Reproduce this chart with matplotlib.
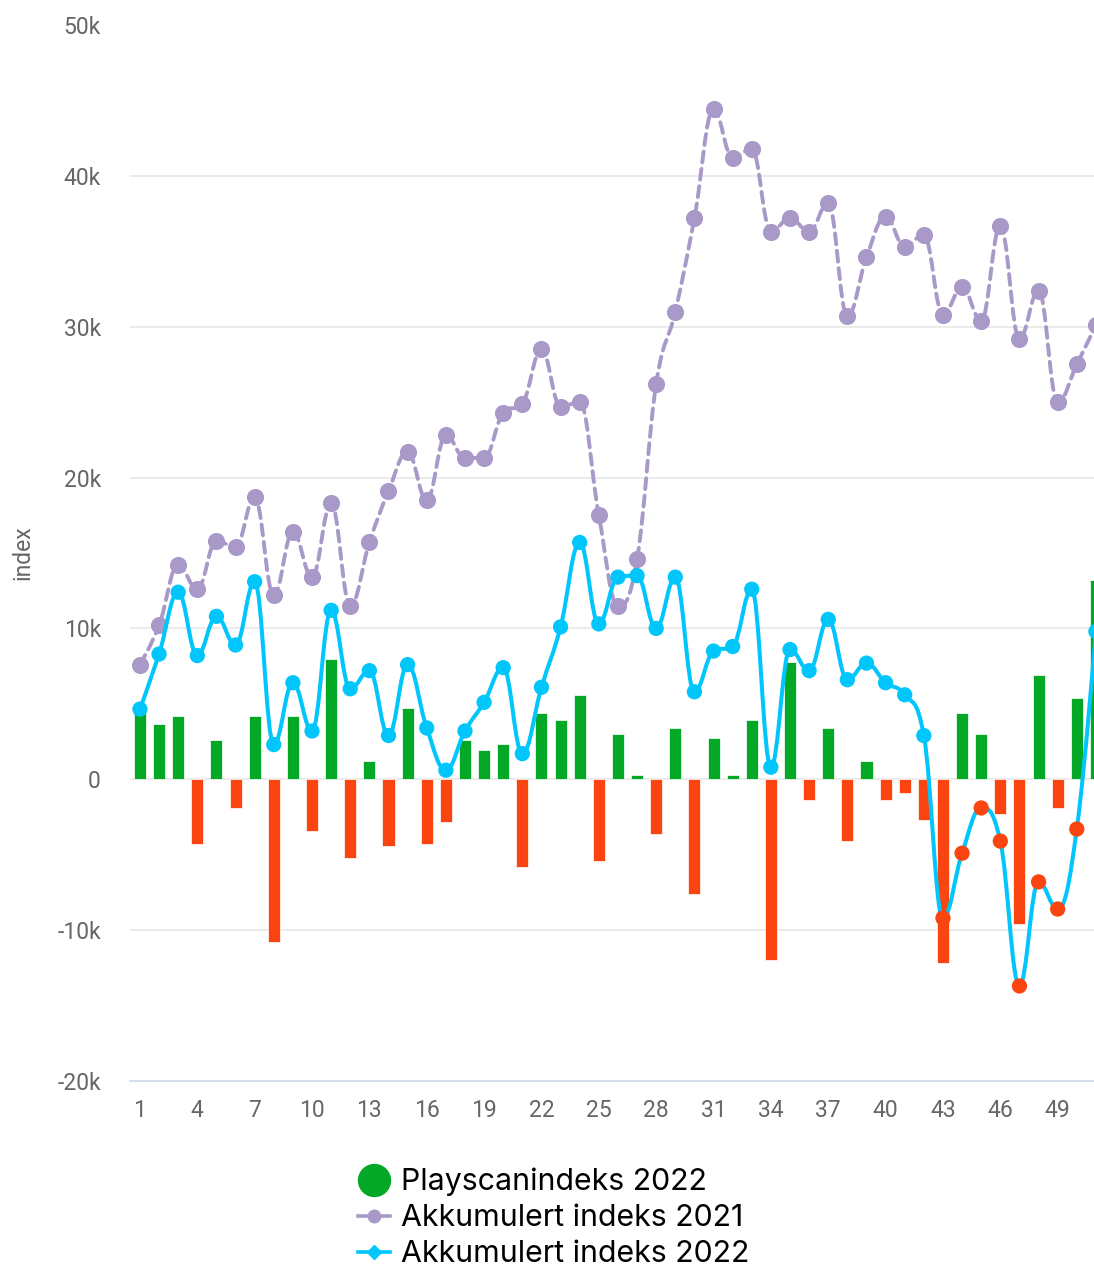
"""
Playscan index 2022 vs accumulated index 2021/2022 per week.
"""

import matplotlib
matplotlib.use("Agg")
import matplotlib.pyplot as plt
from matplotlib.path import Path
from matplotlib.patches import PathPatch
from matplotlib.lines import Line2D
from matplotlib.ticker import FuncFormatter

weeks = list(range(1, 52))

index_2022 = [4600, 3650, 4200, -4300, 2600, -1900, 4200, -10800, 4200, -3400,
              8000, -5200, 1200, -4400, 4700, -4300, -2800, 2600, 1950, 2350,
              -5800, 4400, 3900, 5600, -5400, 3000, 270, -3600, 3400, -7600,
              2750, 270, 3900, -12000, 7800, -1400, 3400, -4100, 1200, -1400,
              -900, -2700, -12200, 4400, 3000, -2300, -9600, 6900, -1900, 5400,
              13200]

acc_2021 = [7600, 10200, 14200, 12600, 15800, 15400, 18700, 12200, 16400, 13400,
            18300, 11500, 15700, 19100, 21700, 18500, 22800, 21300, 21300, 24300,
            24900, 28500, 24700, 25000, 17500, 11500, 14600, 26200, 31000, 37200,
            44400, 41200, 41800, 36300, 37200, 36300, 38200, 30700, 34600, 37300,
            35300, 36100, 30800, 32600, 30400, 36700, 29200, 32400, 25000, 27500,
            30100]

acc_2022 = [4650, 8300, 12400, 8200, 10800, 8900, 13100, 2300, 6400, 3200,
            11200, 6000, 7200, 2900, 7600, 3400, 600, 3200, 5100, 7400,
            1700, 6100, 10100, 15700, 10300, 13400, 13500, 10000, 13400, 5800,
            8500, 8800, 12600, 800, 8600, 7200, 10600, 6600, 7700, 6400,
            5600, 2900, -9200, -4900, -1900, -4100, -13700, -6800, -8600, -3300,
            9800]

x_ticks = list(range(1, 52, 3))
y_ticks = [-20000, -10000, 0, 10000, 20000, 30000, 40000, 50000]

GREEN = "#03a826"
RED = "#fb4510"
CYAN = "#00c6fc"
PURPLE = "#a899c8"
LABEL = "#666666"


def spline_path(xs, ys):
    # Highcharts-style spline: bezier controls, no false extremes
    n = len(xs)
    ctrl = []
    for i in range(n):
        x, y = xs[i], ys[i]
        if i == 0 or i == n - 1:
            ctrl.append(((x, y), (x, y)))
            continue
        px, py = xs[i - 1], ys[i - 1]
        nx, ny = xs[i + 1], ys[i + 1]
        lx, ly = (1.5 * x + px) / 2.5, (1.5 * y + py) / 2.5
        rx, ry = (1.5 * x + nx) / 2.5, (1.5 * y + ny) / 2.5
        if rx != lx:
            corr = (ry - ly) * (rx - x) / (rx - lx) + y - ry
            ly += corr
            ry += corr
            if ly > py and ly > y:
                ly = max(py, y)
                ry = 2 * y - ly
            elif ly < py and ly < y:
                ly = min(py, y)
                ry = 2 * y - ly
            if ry > ny and ry > y:
                ry = max(ny, y)
                ly = 2 * y - ry
            elif ry < ny and ry < y:
                ry = min(ny, y)
                ly = 2 * y - ry
        ctrl.append(((lx, ly), (rx, ry)))
    verts = [(xs[0], ys[0])]
    codes = [Path.MOVETO]
    for i in range(1, n):
        verts += [ctrl[i - 1][1], ctrl[i][0], (xs[i], ys[i])]
        codes += [Path.CURVE4] * 3
    return Path(verts, codes)


plt.rcParams["font.family"] = ["Roboto", "DejaVu Sans"]

fig = plt.figure(figsize=(10.94, 12.67), dpi=100)
ax = fig.add_axes([130 / 1094, 1 - 1081 / 1267, 964 / 1094, (1081 - 25) / 1267])

# bars
bar_colors = [GREEN if v >= 0 else RED for v in index_2022]
ax.bar(weeks, index_2022, width=0.63, color=bar_colors, edgecolor="white",
       linewidth=0.5, zorder=2)

# 2021 accumulated, dashed spline
ax.add_patch(PathPatch(spline_path(weeks, acc_2021), fill=False, edgecolor=PURPLE,
                       linewidth=2.8, linestyle=(0, (2.8, 1.7)), zorder=3,
                       capstyle="round"))
ax.plot(weeks, acc_2021, linestyle="none", marker="o", markersize=11.3,
        color=PURPLE, zorder=4)

# 2022 accumulated, solid spline
ax.add_patch(PathPatch(spline_path(weeks, acc_2022), fill=False, edgecolor=CYAN,
                       linewidth=2.9, zorder=5))
marker_colors = [CYAN if v >= 0 else RED for v in acc_2022]
ax.scatter(weeks, acc_2022, s=11 ** 2, c=marker_colors, zorder=6, linewidths=0)

ax.set_xlim(0.48, 50.9)
ax.set_ylim(-20000, 50000)
ax.set_xticks(x_ticks)
ax.set_yticks(y_ticks)
ax.yaxis.set_major_formatter(FuncFormatter(lambda v, _: "0" if v == 0 else f"{int(v / 1000)}k"))
ax.tick_params(axis="y", length=0, pad=21, labelsize=16.5, labelcolor=LABEL)
ax.tick_params(axis="x", length=0, pad=13, labelsize=16.5, labelcolor=LABEL)

ax.grid(axis="y", color="#e6e6e6", linewidth=1.1, zorder=0)
ax.set_axisbelow(True)
gl = ax.yaxis.get_gridlines()
gl[0].set_visible(False)
gl[-1].set_visible(False)
for side in ["top", "right", "left"]:
    ax.spines[side].set_visible(False)
ax.spines["bottom"].set_color("#ccd6eb")
ax.spines["bottom"].set_linewidth(1.1)

ax.set_ylabel("index", fontsize=16.5, color=LABEL)
ax.yaxis.set_label_coords(-0.099, 0.5)

handles = [
    Line2D([], [], linestyle="none", marker="o", markersize=23, color=GREEN),
    Line2D([], [], color=PURPLE, linewidth=2.6, marker="o", markersize=9),
    Line2D([], [], color=CYAN, linewidth=2.6, marker="D", markersize=7),
]
labels = ["Playscanindeks 2022", "Akkumulert indeks 2021", "Akkumulert indeks 2022"]
fig.legend(handles, labels, loc="upper left", bbox_to_anchor=(358 / 1094, 1 - 1168 / 1267),
           frameon=False, handlelength=1.05, handletextpad=0.36,
           labelspacing=0.26, borderpad=0, borderaxespad=0, numpoints=1,
           prop={"family": ["Inter", "DejaVu Sans"], "size": 21.8})

plt.savefig("out.png", dpi=100)
